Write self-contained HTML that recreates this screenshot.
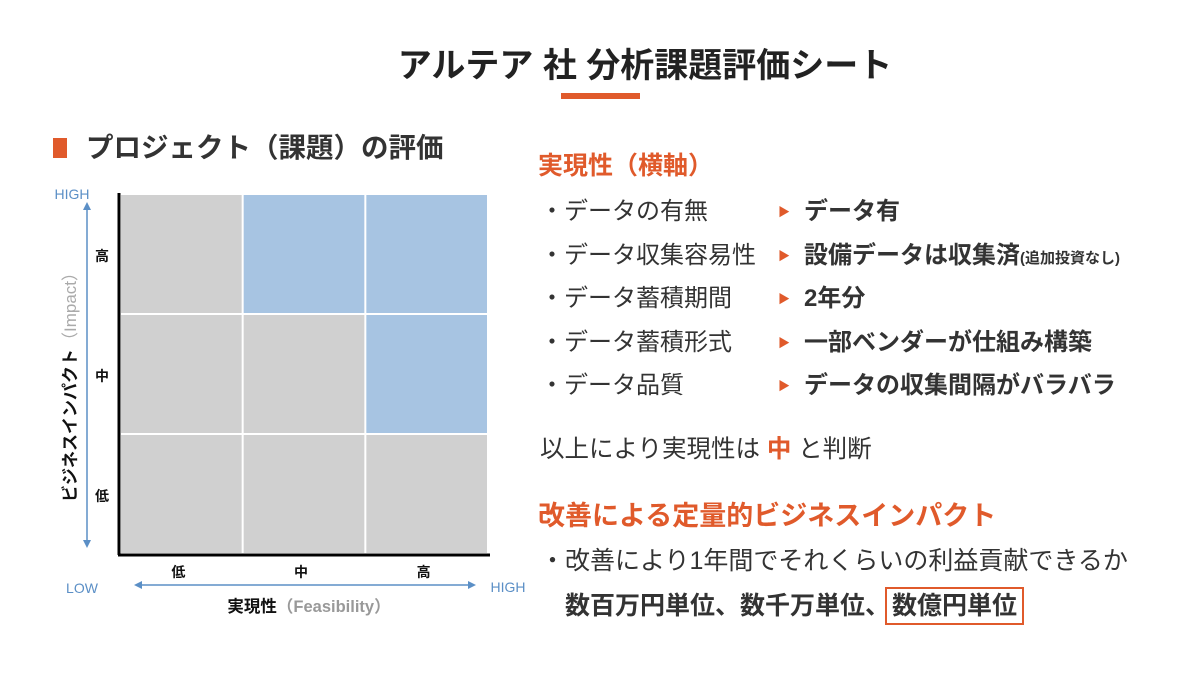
<!DOCTYPE html>
<html><head><meta charset="utf-8">
<style>
body{margin:0;width:1200px;height:675px;background:#fff;position:relative;overflow:hidden;font-family:"Liberation Sans","Noto Sans CJK JP",sans-serif;color:#333}
.a{position:absolute;white-space:nowrap}
.o{color:#e05a2b}
.b{font-weight:bold}
.r{font-size:24px;line-height:32px}
.m{font-size:12px;line-height:26px}
</style></head><body>
<div class="a b" style="left:0;width:1290px;text-align:center;top:45px;font-size:34px;line-height:42px;color:#222">アルテア 社 分析課題評価シート</div>
<div class="a" style="left:561px;top:93px;width:79px;height:6px;background:#e05a2b"></div>
<div class="a" style="left:53px;top:138px;width:14px;height:20px;background:#e05a2b"></div>
<div class="a b" style="left:86px;top:130px;font-size:27.5px;line-height:36px;color:#333">プロジェクト（課題）の評価</div>

<svg class="a" style="left:0;top:0" width="540" height="675">
<g id="cells"></g>
<line x1="119" y1="193" x2="119" y2="555" stroke="#000" stroke-width="3"/>
<line x1="118" y1="555" x2="490" y2="555" stroke="#000" stroke-width="3"/>
<g id="labels" font-family="Liberation Sans, Noto Sans CJK JP, sans-serif" font-weight="bold" font-size="14" fill="#111" text-anchor="middle"></g>
<text x="72" y="199" font-size="14" fill="#5b8fc6" text-anchor="middle" font-family="Liberation Sans, sans-serif">HIGH</text>
<text x="82" y="593" font-size="14" fill="#5b8fc6" text-anchor="middle" font-family="Liberation Sans, sans-serif">LOW</text>
<text x="508" y="592" font-size="14" fill="#5b8fc6" text-anchor="middle" font-family="Liberation Sans, sans-serif">HIGH</text>
<line x1="87" y1="208" x2="87" y2="542" stroke="#5b8fc6" stroke-width="1.5"/>
<polygon points="87,202 83,210 91,210" fill="#5b8fc6"/>
<polygon points="87,548 83,540 91,540" fill="#5b8fc6"/>
<line x1="140" y1="585" x2="470" y2="585" stroke="#5b8fc6" stroke-width="1.5"/>
<polygon points="134,585 142,581 142,589" fill="#5b8fc6"/>
<polygon points="476,585 468,581 468,589" fill="#5b8fc6"/>
<text x="309" y="612" font-size="16.5" text-anchor="middle" font-family="Liberation Sans, Noto Sans CJK JP, sans-serif" font-weight="bold"><tspan fill="#111">実現性</tspan><tspan fill="#999">（Feasibility）</tspan></text>
<text transform="translate(76,383) rotate(-90)" font-size="17" text-anchor="middle" font-family="Liberation Sans, Noto Sans CJK JP, sans-serif" font-weight="bold"><tspan fill="#111">ビジネスインパクト</tspan><tspan fill="#aaa" font-weight="normal">（Impact）</tspan></text>
</svg>
<script>
const xCats=['低','中','高'];
const yCats=['高','中','低'];
const cellValues=[[0,1,1],[0,0,1],[0,0,0]];
const x0=120,x1=488,y0=194,y1=554;
const cw=(x1-x0)/xCats.length,ch=(y1-y0)/yCats.length;
const xs=i=>x0+i*cw, ys=j=>y0+j*ch;
const NS='http://www.w3.org/2000/svg';
const cg=document.getElementById('cells'),lg=document.getElementById('labels');
cellValues.forEach((row,j)=>row.forEach((v,i)=>{
 const r=document.createElementNS(NS,'rect');
 r.setAttribute('x',xs(i)+1);r.setAttribute('y',ys(j)+1);
 r.setAttribute('width',cw-2);r.setAttribute('height',ch-2);
 r.setAttribute('fill',v?'#a7c4e2':'#d0d0d0');
 
 
 cg.appendChild(r);
}));
xCats.forEach((c,i)=>{const t=document.createElementNS(NS,'text');
 t.setAttribute('x',xs(i)+cw/2-3);t.setAttribute('y',577);t.textContent=c;
 
 
 lg.appendChild(t);});
yCats.forEach((c,j)=>{const t=document.createElementNS(NS,'text');
 t.setAttribute('x',102);t.setAttribute('y',ys(j)+ch/2+7);t.textContent=c;
 
 
 lg.appendChild(t);});
</script>

<div class="a b o" style="left:538px;top:149px;font-size:25px;line-height:34px">実現性（横軸）</div>
<div>
<div class="a r" style="left:540px;top:196px">・データの有無</div>
<div class="a r" style="left:540px;top:240px">・データ収集容易性</div>
<div class="a r" style="left:540px;top:283px">・データ蓄積期間</div>
<div class="a r" style="left:540px;top:327px">・データ蓄積形式</div>
<div class="a r" style="left:540px;top:370px">・データ品質</div>
<div class="a o m" style="left:778px;top:199px">▶</div>
<div class="a o m" style="left:778px;top:243px">▶</div>
<div class="a o m" style="left:778px;top:286px">▶</div>
<div class="a o m" style="left:778px;top:330px">▶</div>
<div class="a o m" style="left:778px;top:373px">▶</div>
<div class="a b r" style="left:804px;top:196px">データ有</div>
<div class="a b r" style="left:804px;top:240px">設備データは収集済<span style="font-size:15px">(追加投資なし)</span></div>
<div class="a b r" style="left:804px;top:283px">2年分</div>
<div class="a b r" style="left:804px;top:327px">一部ベンダーが仕組み構築</div>
<div class="a b r" style="left:804px;top:370px">データの収集間隔がバラバラ</div>
</div>
<div class="a" style="left:540px;top:434px;font-size:24.5px;line-height:32px">以上により実現性は <span class="o b">中</span> と判断</div>
<div class="a b o" style="left:538px;top:499px;font-size:27px;line-height:34px">改善による定量的ビジネスインパクト</div>
<div class="a" style="left:540px;top:545px;font-size:25px;line-height:32px">・改善により1年間でそれくらいの利益貢献できるか</div>
<div class="a b" style="left:565px;top:590px;font-size:25px;line-height:32px">数百万円単位、数千万単位、<span style="outline:2px solid #e05a2b;outline-offset:3px;padding:0 2px">数億円単位</span></div>
</body></html>
